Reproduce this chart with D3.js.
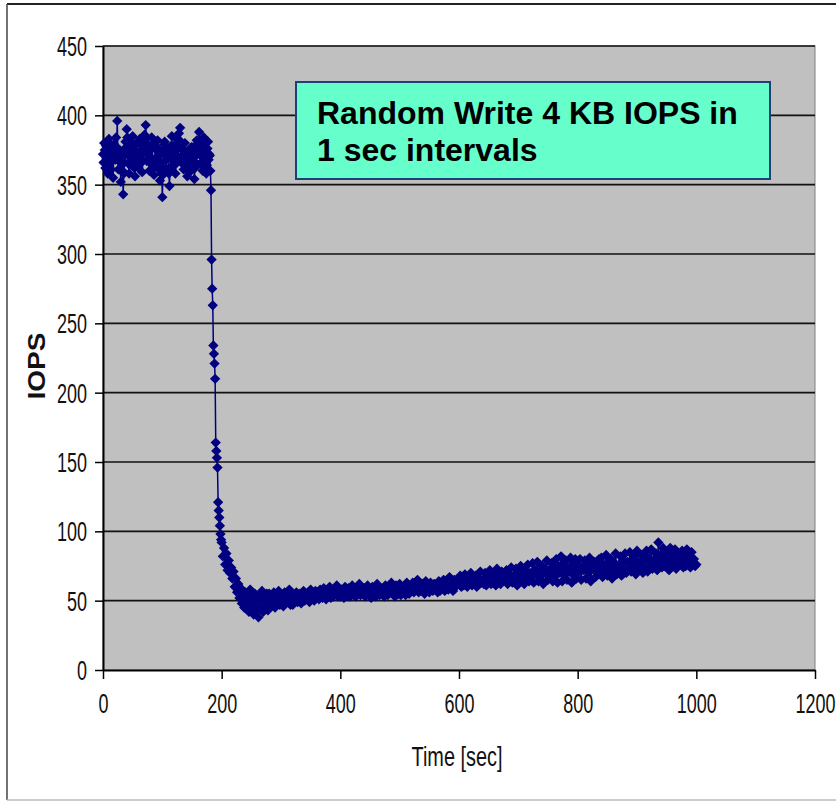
<!DOCTYPE html>
<html>
<head>
<meta charset="utf-8">
<script src="https://cdn.jsdelivr.net/npm/d3@7"></script>
<style>
  body { margin: 0; background: #fff; }
  svg { display: block; }
</style>
</head>
<body>
<svg width="836" height="802"></svg>
<script>
// plateau before the drop: one reading per second from t = 0
var plateauStart = 0, plateauStep = 1;
var plateauIops = [
    372, 366, 380, 375, 362, 378, 369, 376, 358, 371,
    383, 374, 366, 379, 361, 374, 370, 355, 368, 379,
    372, 368, 384, 377, 396, 375, 361, 370, 375, 366,
    352, 368, 370, 360, 343, 358, 366, 373, 381, 377,
    390, 384, 372, 365, 358, 370, 377, 381, 364, 369,
    385, 378, 369, 362, 356, 366, 380, 374, 371, 363,
    362, 370, 383, 379, 374, 366, 359, 368, 378, 382,
    386, 380, 393, 384, 367, 372, 379, 375, 360, 366,
    375, 369, 384, 378, 368, 362, 357, 364, 376, 381,
    363, 370, 382, 376, 371, 365, 353, 360, 366, 358,
    341, 357, 374, 379, 381, 371, 362, 368, 377, 373,
    369, 358, 349, 361, 372, 378, 385, 375, 364, 368,
    378, 371, 358, 365, 383, 380, 370, 376, 387, 382,
    391, 378, 366, 371, 376, 369, 361, 367, 380, 374,
    368, 363, 356, 365, 374, 370, 359, 366, 371, 377,
    363, 369, 377, 372, 354, 362, 366, 374, 382, 376,
    372, 380, 388, 376, 365, 371, 379, 373, 360, 367,
    384, 378, 373, 366, 358, 364, 376, 381, 368, 372,
    371, 360, 346
];

// the fall, every second from t = 183
var dropStart = 183, dropStep = 1;
var dropIops = [296, 275, 263, 234, 228, 221, 210, 164, 158, 153, 146, 121, 115, 110, 104, 98, 94];

// slow recovery, one reading every 2 s from t = 200
var tailStart = 200, tailStep = 2;
var tailIops = [
    92, 82, 88, 76, 84, 72, 79, 70, 74, 66, 71, 60, 66, 56, 62, 52, 59, 48, 57, 45,
    56, 44, 53, 42, 58, 45, 51, 40, 55, 43, 50, 38, 54, 44, 57, 42, 52, 46, 55, 43,
    55, 46, 51, 48, 56, 45, 52, 49, 57, 47, 53, 50, 46, 56, 48, 54, 50, 58, 47, 53,
    47, 54, 50, 56, 49, 52, 55, 48, 53, 57, 50, 54, 51, 56, 49, 58, 52, 55, 50, 57,
    53, 56, 51, 58, 54, 52, 59, 55, 51, 57, 54, 60, 52, 56, 53, 58, 55, 61, 53, 57,
    53, 58, 55, 52, 60, 56, 54, 59, 53, 57, 61, 54, 56, 53, 59, 55, 62, 54, 57, 55,
    59, 53, 56, 61, 54, 57, 52, 60, 55, 58, 53, 62, 56, 54, 59, 55, 57, 53, 61, 56,
    54, 60, 56, 63, 55, 58, 53, 61, 57, 55, 62, 54, 59, 56, 60, 54, 63, 57, 55, 59,
    57, 63, 56, 61, 58, 65, 56, 60, 57, 62, 59, 55, 64, 58, 61, 56, 63, 59, 57, 62,
    58, 62, 56, 64, 57, 61, 59, 65, 57, 62, 60, 58, 67, 59, 62, 57, 65, 60, 63, 64,
    62, 68, 60, 65, 61, 69, 63, 60, 66, 62, 70, 61, 64, 63, 68, 60, 66, 62, 71, 63,
    65, 62, 70, 61, 67, 64, 72, 62, 66, 63, 69, 61, 73, 65, 67, 62, 71, 64, 68, 66,
    72, 62, 69, 66, 74, 63, 68, 65, 73, 61, 70, 67, 75, 64, 69, 62, 72, 66, 76, 64,
    70, 67, 77, 63, 72, 69, 78, 64, 71, 68, 75, 62, 73, 70, 79, 65, 72, 67, 77, 64,
    74, 68, 80, 63, 75, 70, 82, 64, 76, 69, 79, 65, 73, 71, 81, 63, 77, 68, 80, 66,
    76, 71, 80, 65, 74, 72, 79, 66, 77, 70, 81, 64, 75, 73, 78, 67, 74, 69, 80, 70,
    81, 67, 76, 72, 83, 68, 77, 71, 80, 66, 78, 73, 84, 69, 75, 71, 82, 68, 79, 72,
    84, 70, 78, 73, 85, 71, 79, 74, 82, 69, 86, 72, 78, 75, 83, 70, 80, 73, 86, 71,
    81, 75, 87, 73, 79, 76, 84, 72, 92, 78, 83, 74, 88, 75, 81, 77, 85, 72, 88, 76,
    82, 77, 87, 73, 85, 76, 80, 78, 86, 74, 83, 75, 87, 77, 81, 74, 85, 78, 80, 75,
    76
];

var xTicks = [0, 200, 400, 600, 800, 1000, 1200];
var yTicks = [0, 50, 100, 150, 200, 250, 300, 350, 400, 450];
var titleLines = ["Random Write 4 KB IOPS in", "1 sec intervals"];
var xTitle = "Time [sec]";
var yTitle = "IOPS";

function segment(start, step, vals) {
    return vals.map(function(v, i) { return {t: start + i * step, v: v}; });
}
var data = segment(plateauStart, plateauStep, plateauIops)
    .concat(segment(dropStart, dropStep, dropIops))
    .concat(segment(tailStart, tailStep, tailIops));

var svg = d3.select("svg"),
    margin = {top: 46, right: 21, bottom: 132, left: 103},
    width = +svg.attr("width") - margin.left - margin.right,
    height = +svg.attr("height") - margin.top - margin.bottom;

var narrow = "'Liberation Sans Narrow', 'Arial Narrow', 'Liberation Sans', Arial, sans-serif";
var navy = "#000080";

// outer chart frame
svg.append("line").attr("x1", 7).attr("y1", 4).attr("x2", 836).attr("y2", 4)
    .attr("stroke", "#222").attr("stroke-width", 2);
svg.append("line").attr("x1", 7).attr("y1", 4).attr("x2", 7).attr("y2", 800)
    .attr("stroke", "#444").attr("stroke-width", 1.5);
svg.append("line").attr("x1", 7).attr("y1", 800).attr("x2", 836).attr("y2", 800)
    .attr("stroke", "#bbb").attr("stroke-width", 1.5);

var g = svg.append("g").attr("transform", "translate(" + margin.left + "," + margin.top + ")");

var x = d3.scaleLinear().domain([0, 1200]).range([0, width]);
var y = d3.scaleLinear().domain([0, 450]).range([height, 0]);

g.append("rect")
    .attr("width", width)
    .attr("height", height)
    .attr("fill", "#c0c0c0")
    .attr("stroke", "#808080");

// gridlines
g.append("g")
    .selectAll("line")
    .data(yTicks.filter(function(d) { return d > 0; }))
    .enter().append("line")
    .attr("x1", 0).attr("x2", width)
    .attr("y1", function(d) { return y(d); })
    .attr("y2", function(d) { return y(d); })
    .attr("stroke", "#111")
    .attr("stroke-width", 1.6);

// y axis
var yAxis = g.append("g")
    .call(d3.axisLeft(y).tickValues(yTicks).tickFormat(d3.format("d"))
        .tickSize(8).tickSizeOuter(0).tickPadding(8));
yAxis.select(".domain").attr("stroke", "#000").attr("stroke-width", 2);
yAxis.selectAll(".tick line").attr("stroke", "#000").attr("stroke-width", 1.5);
yAxis.selectAll(".tick text")
    .attr("fill", "#111")
    .style("font-family", narrow)
    .style("font-size", "27px")
    .attr("dy", "0.35em")
    .attr("textLength", function(d) { return String(d).length * 10; })
    .attr("lengthAdjust", "spacingAndGlyphs");

// x axis
var xAxis = g.append("g")
    .attr("transform", "translate(0," + height + ")")
    .call(d3.axisBottom(x).tickValues(xTicks).tickFormat(d3.format("d"))
        .tickSize(9).tickSizeOuter(0).tickPadding(14));
xAxis.select(".domain").attr("stroke", "#000").attr("stroke-width", 2);
xAxis.selectAll(".tick line").attr("stroke", "#000").attr("stroke-width", 1.5);
xAxis.selectAll(".tick text")
    .attr("fill", "#111")
    .style("font-family", narrow)
    .style("font-size", "28px")
    .attr("textLength", function(d) { return String(d).length * 10; })
    .attr("lengthAdjust", "spacingAndGlyphs");

// axis titles
svg.append("text")
    .attr("x", 457).attr("y", 766)
    .attr("text-anchor", "middle")
    .attr("textLength", 91).attr("lengthAdjust", "spacingAndGlyphs")
    .style("font-family", narrow)
    .style("font-size", "28px")
    .attr("fill", "#111")
    .text(xTitle);

svg.append("text")
    .attr("transform", "translate(45,366) rotate(-90)")
    .attr("text-anchor", "middle")
    .attr("textLength", 67).attr("lengthAdjust", "spacingAndGlyphs")
    .style("font-family", "'Liberation Sans', Arial, sans-serif")
    .style("font-size", "24px")
    .style("font-weight", "bold")
    .attr("fill", "#111")
    .text(yTitle);

// the series
var line = d3.line()
    .x(function(d) { return x(d.t); })
    .y(function(d) { return y(d.v); });

g.append("path")
    .datum(data)
    .attr("fill", "none")
    .attr("stroke", navy)
    .attr("stroke-width", 1.5)
    .attr("d", line);

var diamond = d3.symbol().type(d3.symbolDiamond2).size(68);
g.append("g")
    .selectAll("path")
    .data(data)
    .enter().append("path")
    .attr("transform", function(d) { return "translate(" + x(d.t) + "," + y(d.v) + ")"; })
    .attr("d", diamond)
    .attr("fill", navy);

// title box
var box = svg.append("g").attr("transform", "translate(296,82)");
box.append("rect")
    .attr("width", 474)
    .attr("height", 97)
    .attr("fill", "#66ffcc")
    .attr("stroke", "#1f3f78")
    .attr("stroke-width", 2);
box.selectAll("text")
    .data(titleLines)
    .enter().append("text")
    .attr("x", 21)
    .attr("y", function(d, i) { return 42 + i * 37; })
    .style("font-family", "'Liberation Sans', Arial, sans-serif")
    .style("font-size", "32px")
    .style("font-weight", "bold")
    .attr("fill", "#000")
    .text(function(d) { return d; });
</script>
</body>
</html>
